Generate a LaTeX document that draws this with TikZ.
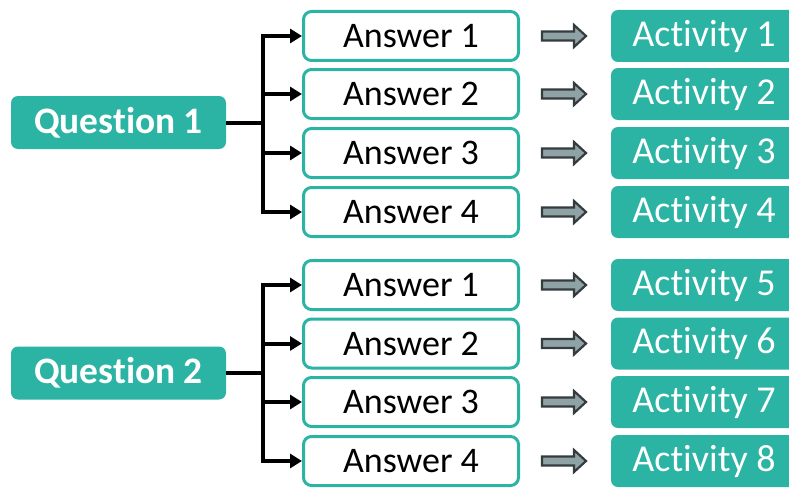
\documentclass[tikz,border=0pt]{standalone}
\usepackage{fontspec}
\setmainfont[RawFeature={-liga;-clig;-dlig;-calt}]{Carlito}
\usetikzlibrary{arrows.meta}
\definecolor{teal1}{HTML}{2BB3A3}
\definecolor{arrfill}{HTML}{8FA2A6}
\definecolor{arrline}{HTML}{343C3F}
\tikzset{
  qbox/.style={draw=none,fill=teal1,rounded corners=7pt,minimum width=215pt,minimum height=53pt,inner sep=0pt,text=white,font=\fontsize{37.4}{40}\selectfont\bfseries},
  abox/.style={draw=teal1,line width=3pt,fill=white,rounded corners=8pt,minimum width=215pt,minimum height=49pt,inner sep=0pt,text=black,font=\fontsize{36}{40}\selectfont},
  actbox/.style={fill=teal1,rounded corners=7pt,minimum width=186pt,minimum height=52pt,inner sep=0pt,text=white,font=\fontsize{38}{40}\selectfont},
  conn/.style={line width=4pt,black},
  tipconn/.style={conn,-{Triangle[length=12pt,width=14pt]}},
  blockarr/.pic={\draw[fill=arrfill,draw=arrline,line width=2.2pt,line join=miter]
     (-22,-4.5) -- (10,-4.5) -- (10,-11) -- (22,0) -- (10,11) -- (10,4.5) -- (-22,4.5) -- cycle;}
}
\begin{document}
\begin{tikzpicture}[x=1pt,y=-1pt]
\useasboundingbox (0,0) rectangle (789,487);
\node[qbox] (q1) at (118.5,122.5) {Question 1};
\node[qbox] (q2) at (118.5,373) {Question 2};
\foreach \i/\y in {1/36,2/94,3/153,4/212}{
  \node[abox] (a1\i) at (411,\y) {Answer \i};
}
\foreach \i/\y in {1/285,2/343.5,3/402,4/461}{
  \node[abox] (a2\i) at (411,\y) {Answer \i};
}
\foreach \n/\y in {1/36,2/94,3/153,4/212,5/285,6/343.5,7/402,8/461}{
  \node[actbox] (act\n) at (704,\y) {Act\kern0pt ivity \n};
  \pic at (564,\y) {blockarr};
}
\coordinate (j1) at (263,122.5);
\coordinate (j2) at (263,373);
\draw[conn] (q1.east) -- (j1);
\draw[conn] (q2.east) -- (j2);
\foreach \i in {1,2,3,4}{
  \draw[tipconn] (j1) |- (a1\i.west);
  \draw[tipconn] (j2) |- (a2\i.west);
}
\end{tikzpicture}
\end{document}
